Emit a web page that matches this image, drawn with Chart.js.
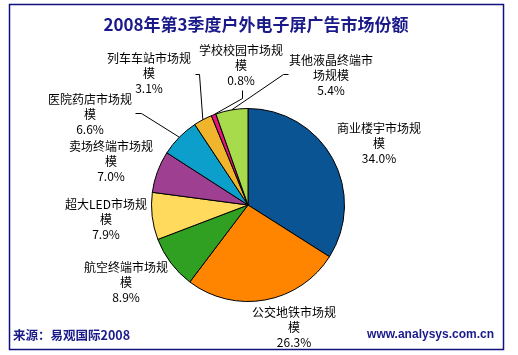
<!DOCTYPE html>
<html><head><meta charset="utf-8">
<script src="https://cdn.jsdelivr.net/npm/chart.js@4/dist/chart.umd.min.js"></script>
<style>html,body{margin:0;padding:0;background:#fff}#wrap{width:518px;height:355px;position:relative}</style>
</head><body><div id="wrap"><canvas id="c" width="518" height="355"></canvas></div>
<script>
const categories = ['商业楼宇市场规模','公交地铁市场规模','航空终端市场规模','超大LED市场规模','卖场终端市场规模','医院药店市场规模','列车车站市场规模','学校校园市场规模','其他液晶终端市场规模'];
const shares = [34.0, 26.3, 8.9, 7.9, 7.0, 6.6, 3.1, 0.8, 5.4];
const sliceColors = ['#0A5494','#FF8400','#2FA021','#FFDA5C','#9E3F91','#0D9FCC','#F0B52D','#E6157C','#A8DB4C'];
const titleText = '2008年第3季度户外电子屏广告市场份额';
const sourceText = '来源：易观国际2008';
const siteText = 'www.analysys.com.cn';

// label placement relative to pie centre, and leader elbows relative to label centre
const labelOffsets = [[131,-62],[46,122],[-122,77],[-142,14],[-137,-44],[-158,-91],[-99,-132],[-7,-140],[83,-130]];
const leaders = [null,null,null,null,null,[[45,-1],[51,-1]],[[46,1],[50,1]],[[1,25],[1,33]],[[-43,-1],[-48,-1]]];

const NAVY = '#1a1a8a';
const CJK = '"Noto Sans CJK SC", "Liberation Sans", sans-serif';

function wrap(ctx, text, maxW){
  const lines=[]; let cur='';
  for (const ch of text){
    if (ctx.measureText(cur+ch).width > maxW && cur){ lines.push(cur); cur=ch; }
    else cur+=ch;
  }
  if (cur) lines.push(cur);
  return lines;
}

const decor = {
  id:'decor',
  afterDraw(chart){
    const ctx = chart.ctx;
    ctx.save();
    ctx.strokeStyle = '#10107f'; ctx.lineWidth = 1.5;
    ctx.strokeRect(9.5, 4.5, 494, 345);
    ctx.fillStyle = NAVY; ctx.textAlign='center'; ctx.textBaseline='middle';
    ctx.font = 'bold 17px '+CJK;
    ctx.fillText(titleText, 256, 25);
    ctx.font = 'bold 12.5px '+CJK; ctx.textAlign='left';
    ctx.fillText(sourceText, 13, 335);
    ctx.font = 'bold 12px "Liberation Sans", Arial, sans-serif'; ctx.textAlign='right';
    ctx.fillText(siteText, 494, 335);
    const meta = chart.getDatasetMeta(0);
    ctx.font = '12px '+CJK; ctx.fillStyle='#000'; ctx.textAlign='center';
    ctx.strokeStyle='#000'; ctx.lineWidth=1;
    meta.data.forEach((arc,i)=>{
      const cx = arc.x + labelOffsets[i][0], cy = arc.y + labelOffsets[i][1];
      const lines = wrap(ctx, categories[i], 86);
      lines.push(shares[i].toFixed(1)+'%');
      const lh = 15, top = cy - (lines.length-1)*lh/2;
      lines.forEach((l,k)=>ctx.fillText(l, cx, top + k*lh));
      if (leaders[i]){
        const mid = (arc.startAngle + arc.endAngle)/2;
        const ex = arc.x + Math.cos(mid)*arc.outerRadius, ey = arc.y + Math.sin(mid)*arc.outerRadius;
        ctx.beginPath();
        leaders[i].forEach((p,k)=>{ const x=Math.round(cx+p[0])+0.5, y=Math.round(cy+p[1])+0.5; k?ctx.lineTo(x,y):ctx.moveTo(x,y); });
        ctx.lineTo(ex, ey);
        ctx.stroke();
      }
    });
    ctx.restore();
  }
};

new Chart(document.getElementById('c'), {
  type:'pie',
  data:{ labels:categories, datasets:[{ data:shares, backgroundColor:sliceColors, borderColor:'#000', borderWidth:1, hoverOffset:0, offset:0 }]},
  options:{
    responsive:false, animation:false,
    layout:{ padding:{ left:151, right:173, top:108, bottom:53 } },
    plugins:{ legend:{display:false}, tooltip:{enabled:false}, title:{display:false} },
    events:[]
  },
  plugins:[decor]
});
</script></body></html>
